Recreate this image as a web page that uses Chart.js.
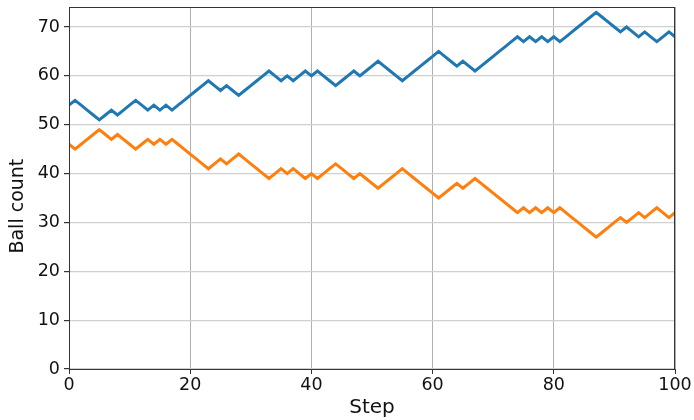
<!DOCTYPE html>
<html>
<head>
<meta charset="utf-8">
<script src="https://cdn.jsdelivr.net/npm/chart.js"></script>
<style>
  html, body { margin: 0; padding: 0; background: #fff; }
  #wrap { position: relative; width: 694px; height: 420px; }
</style>
</head>
<body>
<div id="wrap"><canvas id="balls"></canvas></div>
<script>
// ball count per step (steps 0..100)
const blueCounts = [
  54, 55, 54, 53, 52, 51, 52, 53, 52, 53, 54, 55, 54, 53, 54, 53, 54, 53, 54, 55,
  56, 57, 58, 59, 58, 57, 58, 57, 56, 57, 58, 59, 60, 61, 60, 59, 60, 59, 60, 61,
  60, 61, 60, 59, 58, 59, 60, 61, 60, 61, 62, 63, 62, 61, 60, 59, 60, 61, 62, 63,
  64, 65, 64, 63, 62, 63, 62, 61, 62, 63, 64, 65, 66, 67, 68, 67, 68, 67, 68, 67,
  68, 67, 68, 69, 70, 71, 72, 73, 72, 71, 70, 69, 70, 69, 68, 69, 68, 67, 68, 69,
  68
];
const orangeCounts = [
  46, 45, 46, 47, 48, 49, 48, 47, 48, 47, 46, 45, 46, 47, 46, 47, 46, 47, 46, 45,
  44, 43, 42, 41, 42, 43, 42, 43, 44, 43, 42, 41, 40, 39, 40, 41, 40, 41, 40, 39,
  40, 39, 40, 41, 42, 41, 40, 39, 40, 39, 38, 37, 38, 39, 40, 41, 40, 39, 38, 37,
  36, 35, 36, 37, 38, 37, 38, 39, 38, 37, 36, 35, 34, 33, 32, 33, 32, 33, 32, 33,
  32, 33, 32, 31, 30, 29, 28, 27, 28, 29, 30, 31, 30, 31, 32, 31, 32, 33, 32, 31,
  32
];
const xTicks = [0, 20, 40, 60, 80, 100];
const yTicks = [0, 10, 20, 30, 40, 50, 60, 70];

const toPoints = arr => arr.map((v, i) => ({ x: i, y: v }));

// matplotlib-like box around the plot area
const frame = {
  id: "frame",
  afterDraw(chart) {
    const { ctx, chartArea: a } = chart;
    ctx.save();
    ctx.strokeStyle = "#333";
    ctx.lineWidth = 1;
    ctx.strokeRect(a.left + 0.5, a.top + 0.5, a.right - a.left - 1, a.bottom - a.top);
    ctx.restore();
  }
};

const font = { family: "'DejaVu Sans', sans-serif", size: 17.5 };

new Chart(document.getElementById("balls"), {
  type: "line",
  data: {
    datasets: [
      { data: toPoints(blueCounts), borderColor: "#1f77b4", borderWidth: 3, pointRadius: 0, tension: 0 },
      { data: toPoints(orangeCounts), borderColor: "#ff7f0e", borderWidth: 3, pointRadius: 0, tension: 0 }
    ]
  },
  options: {
    responsive: true,
    maintainAspectRatio: false,
    animation: false,
    layout: { padding: { left: 0, right: 19, top: 7, bottom: 0 } },
    plugins: { legend: { display: false }, tooltip: { enabled: false } },
    scales: {
      x: {
        type: "linear",
        min: 0,
        max: 100,
        afterBuildTicks: s => { s.ticks = xTicks.map(v => ({ value: v })); },
        afterFit: s => { s.height = 51; s.paddingLeft = 0; s.paddingRight = 0; },
        grid: { color: "#b0b0b0", lineWidth: 1, tickColor: "#333", tickLength: 5 },
        border: { display: false },
        ticks: { color: "#111", font, padding: 1, maxRotation: 0 },
        title: { display: true, text: "Step", color: "#111", font: { family: font.family, size: 20 }, padding: { top: 0, bottom: 0 } }
      },
      y: {
        min: 0,
        max: 74.1,
        afterBuildTicks: s => { s.ticks = yTicks.map(v => ({ value: v })); },
        afterFit: s => { s.width = 69; s.paddingTop = 0; s.paddingBottom = 0; },
        grid: { color: "#d0d0d0", lineWidth: 1.2, tickColor: "#333", tickLength: 5 },
        border: { display: false },
        ticks: { color: "#111", font, padding: 4 },
        // trailing spaces nudge the label a bit lower, as in the original
        title: { display: true, text: "Ball count      ", color: "#111", font: { family: font.family, size: 19 }, padding: { top: 7, bottom: 0 } }
      }
    }
  },
  plugins: [frame]
});
</script>
</body>
</html>
